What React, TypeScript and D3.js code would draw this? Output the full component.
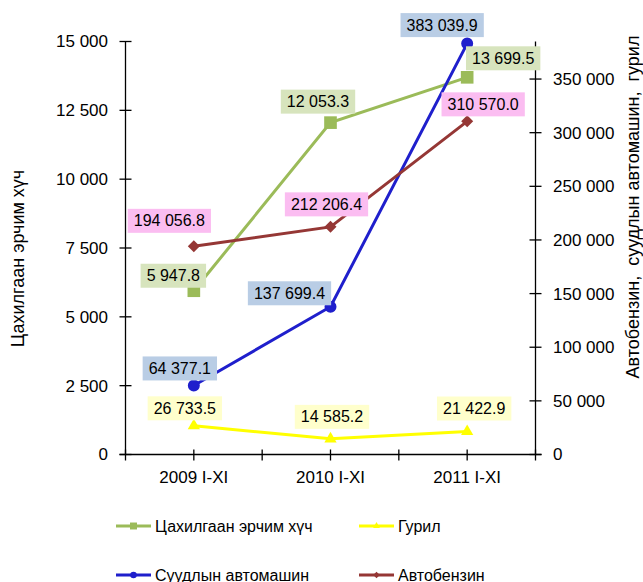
import React, { useEffect, useRef } from "react";
import * as d3 from "d3";

const categories = ["2009 I-XI", "2010 I-XI", "2011 I-XI"];
const electricity = [5947.8, 12053.3, 13699.5];
const flour = [26733.5, 14585.2, 21422.9];
const cars = [64377.1, 137699.4, 383039.9];
const gasoline = [194056.8, 212206.4, 310570.0];
const leftTicks = [0, 2500, 5000, 7500, 10000, 12500, 15000];
const rightTicks = [0, 50000, 100000, 150000, 200000, 250000, 300000, 350000];
const seriesNames = ["Цахилгаан эрчим хүч", "Гурил", "Суудлын автомашин", "Автобензин"];
const leftTitle = "Цахилгаан эрчим хүч";
const rightTitle = "Автобензин,  суудлын автомашин,  гурил";

const W = 643, H = 582;
const FONT = "'Liberation Sans', Arial, sans-serif";

// label box center offsets relative to the point (layout)
const labelOffsets: [number, number][][] = [
  [[-20.5, -15], [-12.5, -21], [36, -19]],
  [[-9, -17.5], [1.5, -22], [7, -23]],
  [[-14, -17], [-41, -13.5], [-25, -18.5]],
  [[-24.5, -25.5], [-4, -22.5], [16, -17]],
];

export default function App() {
  const ref = useRef<SVGSVGElement>(null);
  useEffect(() => {
    const svg = d3.select(ref.current);
    svg.selectAll("*").remove();
    const x0 = 125.5, x1 = 535.5, yTop = 41.5, yBot = 454.5;
    const x = d3.scaleBand().domain(categories).range([x0, x1]);
    const cx = (c: string) => (x(c) as number) + x.bandwidth() / 2;
    const yL = d3.scaleLinear().domain([0, 15000]).range([yBot, yTop]);
    const yR = d3.scaleLinear().domain([0, 385000]).range([yBot, yTop]);
    const fmt = (v: number) => d3.format(",")(v).replace(/,/g, " ");
    const fmt1 = (v: number) => d3.format(",.1f")(v).replace(/,/g, " ");

    const g = svg.append("g").attr("font-family", FONT);

    const axisColor = "#000";
    g.append("line").attr("x1", x0).attr("x2", x0).attr("y1", yTop).attr("y2", yBot).attr("stroke", axisColor).attr("stroke-width", 1.3);
    g.append("line").attr("x1", x1).attr("x2", x1).attr("y1", yTop).attr("y2", yBot).attr("stroke", axisColor).attr("stroke-width", 1.3);
    g.append("line").attr("x1", x0 - 6).attr("x2", x1 + 6).attr("y1", yBot).attr("y2", yBot).attr("stroke", axisColor).attr("stroke-width", 1.3);

    leftTicks.forEach((t) => {
      const yy = yL(t);
      g.append("line").attr("x1", x0 - 6).attr("x2", x0 + 6).attr("y1", yy).attr("y2", yy).attr("stroke", axisColor).attr("stroke-width", 1.3);
      g.append("text").attr("x", 108).attr("y", yy).attr("dy", "0.35em").attr("text-anchor", "end").attr("font-size", 17).attr("fill", "#000").text(fmt(t));
    });
    rightTicks.forEach((t) => {
      const yy = yR(t);
      g.append("line").attr("x1", x1 - 6).attr("x2", x1 + 6).attr("y1", yy).attr("y2", yy).attr("stroke", axisColor).attr("stroke-width", 1.3);
      g.append("text").attr("x", 553).attr("y", yy).attr("dy", "0.35em").attr("text-anchor", "start").attr("font-size", 17).attr("fill", "#000").text(fmt(t));
    });
    const bounds = [x0, ...categories.map((c) => (x(c) as number) + x.bandwidth())];
    bounds.forEach((b) => {
      g.append("line").attr("x1", b).attr("x2", b).attr("y1", yBot - 5).attr("y2", yBot + 6).attr("stroke", axisColor).attr("stroke-width", 1.3);
    });
    categories.forEach((c) => {
      g.append("line").attr("x1", cx(c)).attr("x2", cx(c)).attr("y1", yBot - 5).attr("y2", yBot + 6).attr("stroke", axisColor).attr("stroke-width", 1.3);
      g.append("text").attr("x", cx(c)).attr("y", 483).attr("text-anchor", "middle").attr("font-size", 17).attr("fill", "#000").text(c);
    });

    g.append("text").attr("transform", `translate(24,258.5) rotate(-90)`).attr("text-anchor", "middle").attr("font-size", 18).text(leftTitle);
    g.append("text").attr("transform", `translate(639,207) rotate(-90)`).attr("text-anchor", "middle").attr("font-size", 18).style("white-space", "pre").text(rightTitle);

    const series = [
      { name: seriesNames[0], values: electricity, y: yL, color: "#9BBB59", bg: "#D7E4BD", marker: "square" },
      { name: seriesNames[1], values: flour, y: yR, color: "#FFFF00", bg: "#FFFFCC", marker: "triangle" },
      { name: seriesNames[2], values: cars, y: yR, color: "#1F1FCC", bg: "#B9CDE5", marker: "circle" },
      { name: seriesNames[3], values: gasoline, y: yR, color: "#953735", bg: "#FBBDF1", marker: "diamond" },
    ];

    const symbolFor = (m: string) => {
      if (m === "square") return d3.symbol().type(d3.symbolSquare).size(160)();
      if (m === "triangle") return d3.symbol().type(d3.symbolTriangle).size(65)();
      if (m === "circle") return d3.symbol().type(d3.symbolCircle).size(113)();
      return d3.symbol().type(d3.symbolSquare).size(72)();
    };
    const rot = (m: string) => (m === "diamond" ? " rotate(45)" : "");

    const lineLayer = g.append("g");
    const labelLayer = g.append("g");
    series.forEach((s, si) => {
      const pts: [number, number][] = s.values.map((v, i) => [cx(categories[i]), s.y(v)]);
      lineLayer.append("path").attr("d", d3.line()(pts) as string).attr("fill", "none").attr("stroke", s.color).attr("stroke-width", 3);
      pts.forEach((p) => {
        lineLayer.append("path").attr("d", symbolFor(s.marker) as string).attr("transform", `translate(${p[0]},${p[1]})${rot(s.marker)}`).attr("fill", s.color);
      });
      pts.forEach((p, i) => {
        const [dx, dy] = labelOffsets[si][i];
        const lx = p[0] + dx, ly = p[1] + dy;
        const lg = labelLayer.append("g");
        const rect = lg.append("rect").attr("fill", s.bg);
        const t = lg.append("text").attr("x", lx).attr("y", ly).attr("dy", "0.35em").attr("text-anchor", "middle").attr("font-size", 16).attr("fill", "#000").text(fmt1(s.values[i]));
        const bb = (t.node() as SVGTextElement).getBBox();
        const w = bb.width + 12, h = 24;
        rect.attr("x", lx - w / 2).attr("y", ly - h / 2).attr("width", w).attr("height", h);
      });
    });

    const legendPos: [number, number][] = [[116, 526], [359, 526], [116, 575], [359, 575]];
    series.forEach((s, i) => {
      const [lx, ly] = legendPos[i];
      g.append("line").attr("x1", lx).attr("x2", lx + 35).attr("y1", ly).attr("y2", ly).attr("stroke", s.color).attr("stroke-width", 3);
      g.append("path").attr("d", symbolFor(s.marker) as string).attr("transform", `translate(${lx + 17.5},${ly}) scale(0.55)${rot(s.marker)}`).attr("fill", s.color);
      g.append("text").attr("x", lx + 39).attr("y", ly).attr("dy", "0.35em").attr("font-size", 16).attr("fill", "#000").text(s.name);
    });
  }, []);
  return (
    <svg ref={ref} width={W} height={H} style={{ position: "absolute", left: 0, top: 0, background: "#fff" }} />
  );
}
